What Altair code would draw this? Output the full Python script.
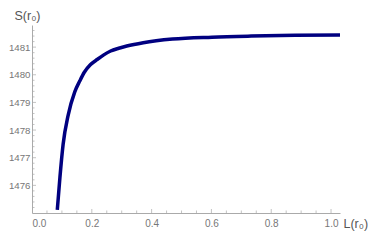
import altair as alt
import pandas as pd

L_vals = [0.0846, 0.0934, 0.104, 0.121, 0.143, 0.160, 0.175, 0.195, 0.219, 0.240, 0.263, 0.290, 0.317, 0.372, 0.470, 0.602, 0.733, 0.88, 1.03]
S_vals = [1475.11, 1476.29, 1477.48, 1478.54, 1479.38, 1479.78, 1480.09, 1480.36, 1480.56, 1480.72, 1480.86, 1480.96, 1481.04, 1481.16, 1481.29, 1481.36, 1481.40, 1481.43, 1481.44]

x_labels = [0.0, 0.2, 0.4, 0.6, 0.8, 1.0]
x_major = [0.2, 0.4, 0.6, 0.8, 1.0]
x_minor = [0.05, 0.1, 0.15, 0.25, 0.3, 0.35, 0.45, 0.5, 0.55, 0.65, 0.7, 0.75, 0.85, 0.9, 0.95]
y_major = [1476, 1477, 1478, 1479, 1480, 1481]
y_minor = [1475.2, 1475.4, 1475.6, 1475.8, 1476.2, 1476.4, 1476.6, 1476.8, 1477.2, 1477.4, 1477.6, 1477.8,
           1478.2, 1478.4, 1478.6, 1478.8, 1479.2, 1479.4, 1479.6, 1479.8, 1480.2, 1480.4, 1480.6, 1480.8,
           1481.2, 1481.4, 1481.6]

XDOM = [0, 1.03]
YDOM = [1475, 1481.8]
W, H = 308, 188
AX = "#aaaaaa"
FONT = "Liberation Sans"

xs = alt.Scale(domain=XDOM, nice=False, zero=False)
ys = alt.Scale(domain=YDOM, nice=False, zero=False)

x_axis = alt.Axis(
    values=x_labels, format=".1f", ticks=False, grid=False, labelOverlap=False,
    domainColor=AX, labelColor="#777777", labelFont=FONT, labelFontSize=10, labelPadding=5,
    title="L(r₀)", titleAngle=0, titleX=311, titleY=10, titleAlign="left", titleBaseline="middle",
    titleFont=FONT, titleFontSize=12.5, titleFontWeight="normal", titleColor="#555555")
y_axis = alt.Axis(
    values=y_major, format="d", ticks=False, grid=False, labelOverlap=False,
    domainColor=AX, labelColor="#777777", labelFont=FONT, labelFontSize=9.7, labelPadding=2,
    title="S(r₀)", titleAngle=0, titleX=-5, titleY=-10, titleAlign="center", titleBaseline="middle",
    titleFont=FONT, titleFontSize=12.5, titleFontWeight="normal", titleColor="#555555")

df = pd.DataFrame({"L": L_vals, "S": S_vals})

line = alt.Chart(df).mark_line(color="#000080", strokeWidth=3.5, interpolate="monotone", clip=True).encode(
    x=alt.X("L:Q", scale=xs, axis=x_axis),
    y=alt.Y("S:Q", scale=ys, axis=y_axis),
)

def xticks(vals, size):
    return alt.Chart(pd.DataFrame({"v": vals})).mark_tick(
        orient="vertical", size=size, thickness=1, yOffset=-size / 2, color=AX).encode(
        x=alt.X("v:Q", scale=xs, axis=x_axis),
        y=alt.datum(YDOM[0], scale=ys, axis=y_axis),
    )

def yticks(vals, size):
    return alt.Chart(pd.DataFrame({"v": vals})).mark_tick(
        orient="horizontal", size=size, thickness=1, xOffset=size / 2, color=AX).encode(
        y=alt.Y("v:Q", scale=ys, axis=y_axis),
        x=alt.datum(XDOM[0], scale=xs, axis=x_axis),
    )

chart = alt.layer(
    line, xticks(x_major, 4), xticks(x_minor, 2.5), yticks(y_major, 4), yticks(y_minor, 2.5)
).properties(
    width=W, height=H, autosize=alt.AutoSizeParams(type="none"),
    padding={"left": 24, "top": 17, "right": 34, "bottom": 20},
).configure_view(stroke=None)

chart.save("out.html", embed_options={"renderer": "svg", "actions": False})
